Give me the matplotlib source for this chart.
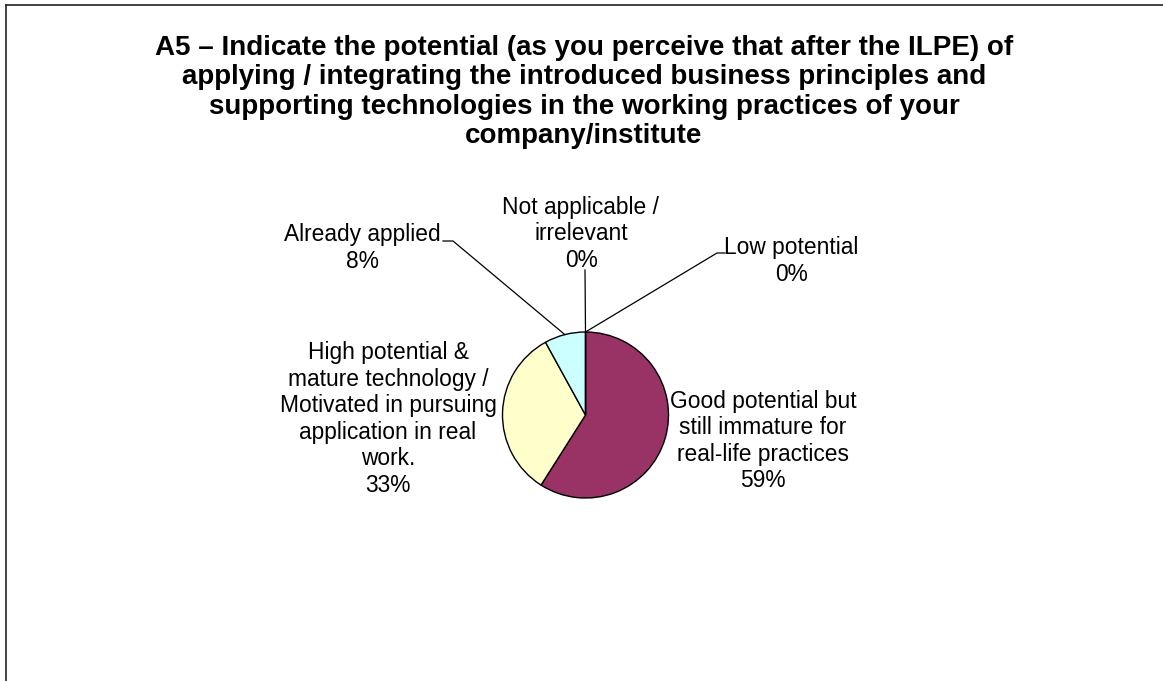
import matplotlib
matplotlib.use("Agg")
import matplotlib.pyplot as plt
import numpy as np
from matplotlib.lines import Line2D

W, H = 1163, 681

# data (clockwise from 12 o'clock)
categories = [
    "Low potential",
    "Good potential but\nstill immature for\nreal-life practices",
    "High potential &\nmature technology /\nMotivated in pursuing\napplication in real\nwork.",
    "Already applied",
    "Not applicable /\nirrelevant",
]
shares = [0, 59, 33, 8, 0]
colours = ["#000080", "#993366", "#FFFFCC", "#CCFFFF", "#FF00FF"]

title = ("A5 \u2013 Indicate the potential (as you perceive that after the ILPE) of\n"
         "applying / integrating the introduced business principles and\n"
         "supporting technologies in the working practices of your\n"
         "company/institute")

# label centres (pixels from top-left) and leader elbows
label_pos = [(791, 261), (763, 441), (388, 419), (362, 248), (581, 234)]
elbows = [[(717, 253), (725, 253)], None, None, [(453, 241), (443, 241)], [(585, 270)]]

plt.rcParams["font.family"] = ["Liberation Sans", "DejaVu Sans"]

fig = plt.figure(figsize=(W / 100, H / 100), dpi=100)
ax = fig.add_axes([0, 0, 1, 1])


def py(y):
    return H - y


cx, cy, r = 585.5, 415, 83
wedges, _ = ax.pie(shares, colors=colours, startangle=90, counterclock=False,
                   center=(cx, py(cy)), radius=r, frame=True,
                   wedgeprops=dict(edgecolor="black", linewidth=1.0))
ax.set_xlim(0, W)
ax.set_ylim(0, H)
ax.set_aspect("equal")
ax.axis("off")

for w, cat, val, (lx, ly), elb in zip(wedges, categories, shares, label_pos, elbows):
    ang = np.deg2rad((w.theta1 + w.theta2) / 2)
    if elb is not None:
        x0 = cx + r * np.cos(ang)
        y0 = py(cy) + r * np.sin(ang)
        xs = [x0] + [e[0] for e in elb]
        ys = [y0] + [py(e[1]) for e in elb]
        ax.plot(xs, ys, color="black", linewidth=0.9)
    ax.text(lx, py(ly), f"{cat}\n{val}%", ha="center", va="center",
            fontsize=16.4, linespacing=1.19, color="black")

fig.text(584 / W, 1 - 92 / H, title, ha="center", va="center",
         fontsize=20, fontweight="bold", linespacing=1.17)

# chart-area frame (top and left edges only visible)
fig.add_artist(Line2D([6 / W, 1], [1 - 5 / H, 1 - 5 / H], color="#222222", linewidth=1.2))
fig.add_artist(Line2D([6 / W, 6 / W], [0, 1 - 5 / H], color="#222222", linewidth=1.2))

fig.savefig("out.png", dpi=100, facecolor="white")
